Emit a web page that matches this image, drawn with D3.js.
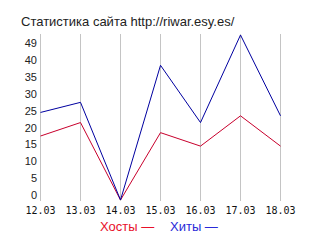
<!DOCTYPE html>
<html>
<head>
<meta charset="utf-8">
<script src="https://cdn.jsdelivr.net/npm/d3@7"></script>
<style>
  body { margin: 0; background: #fff; }
  svg { display: block; }
</style>
</head>
<body>
<div class="chart"></div>
<script>
// data
var dates = ["12.03", "13.03", "14.03", "15.03", "16.03", "17.03", "18.03"];
var hits = [26, 29, 0, 40, 23, 49, 25];
var hosts = [19, 23, 0, 20, 16, 25, 16];
var yTicks = [0, 5, 10, 15, 20, 25, 30, 35, 40, 45];
var yTickLabels = ["0", "5", "10", "15", "20", "25", "30", "35", "40", "49"];

var svgWidth = 320, svgHeight = 240;

var svg = d3.select(".chart").append("svg")
    .attr("width", svgWidth)
    .attr("height", svgHeight);

// x positions of each day
var xScale = d3.scalePoint()
    .domain(dates)
    .range([40, 280]);

// 0 sits at the bottom of the grid, the max at the top
var yScale = d3.scaleLinear()
    .domain([0, 49])
    .range([200, 35]);

// title
svg.append("text")
    .attr("x", 21)
    .attr("y", 25.5)
    .style("font-family", "'Liberation Sans', Arial, sans-serif")
    .style("font-size", "13px")
    .attr("fill", "#222")
    .text("Статистика сайта http://riwar.esy.es/");

// vertical grid lines
svg.append("g")
    .selectAll("line")
    .data(dates)
    .enter()
    .append("line")
    .attr("x1", d => xScale(d) + 0.5)
    .attr("x2", d => xScale(d) + 0.5)
    .attr("y1", 34)
    .attr("y2", 201)
    .attr("stroke", "#c4c4c4")
    .attr("stroke-width", 1);

// y labels, baseline on the value
var leftAxis = d3.axisLeft(yScale)
    .tickValues(yTicks)
    .tickSize(0)
    .tickPadding(0)
    .tickFormat((d, i) => yTickLabels[i]);

var yAxis = svg.append("g")
    .attr("transform", "translate(37, 0)")
    .call(leftAxis);
yAxis.select(".domain").remove();
yAxis.selectAll("text")
    .attr("dy", "-1.5")
    .style("font-family", "'Liberation Sans', Arial, sans-serif")
    .style("font-size", "11px")
    .attr("fill", "#222");

// x labels
var bottomAxis = d3.axisBottom(xScale)
    .tickSize(0)
    .tickPadding(0);

var xAxis = svg.append("g")
    .attr("transform", "translate(0, 207)")
    .call(bottomAxis);
xAxis.select(".domain").remove();
xAxis.selectAll("text")
    .attr("dy", "0.71em")
    .style("font-family", "'DejaVu Sans Mono', monospace")
    .style("font-size", "10px")
    .attr("fill", "#111");

// lines
var line = d3.line()
    .x((d, i) => xScale(dates[i]) + 0.5)
    .y(d => yScale(d));

svg.append("path")
    .datum(hosts)
    .attr("d", line)
    .attr("fill", "none")
    .attr("stroke", "#c8002c")
    .attr("stroke-width", 1);

svg.append("path")
    .datum(hits)
    .attr("d", line)
    .attr("fill", "none")
    .attr("stroke", "#0000a0")
    .attr("stroke-width", 1);

// legend
var legend = svg.append("text")
    .attr("x", 100)
    .attr("y", 231)
    .style("font-family", "'Liberation Sans', Arial, sans-serif")
    .style("font-size", "13px");

legend.append("tspan")
    .attr("fill", "#e8102a")
    .text("Хосты —");

legend.append("tspan")
    .attr("x", 170)
    .attr("fill", "#2a2ad8")
    .text("Хиты —");
</script>
</body>
</html>
